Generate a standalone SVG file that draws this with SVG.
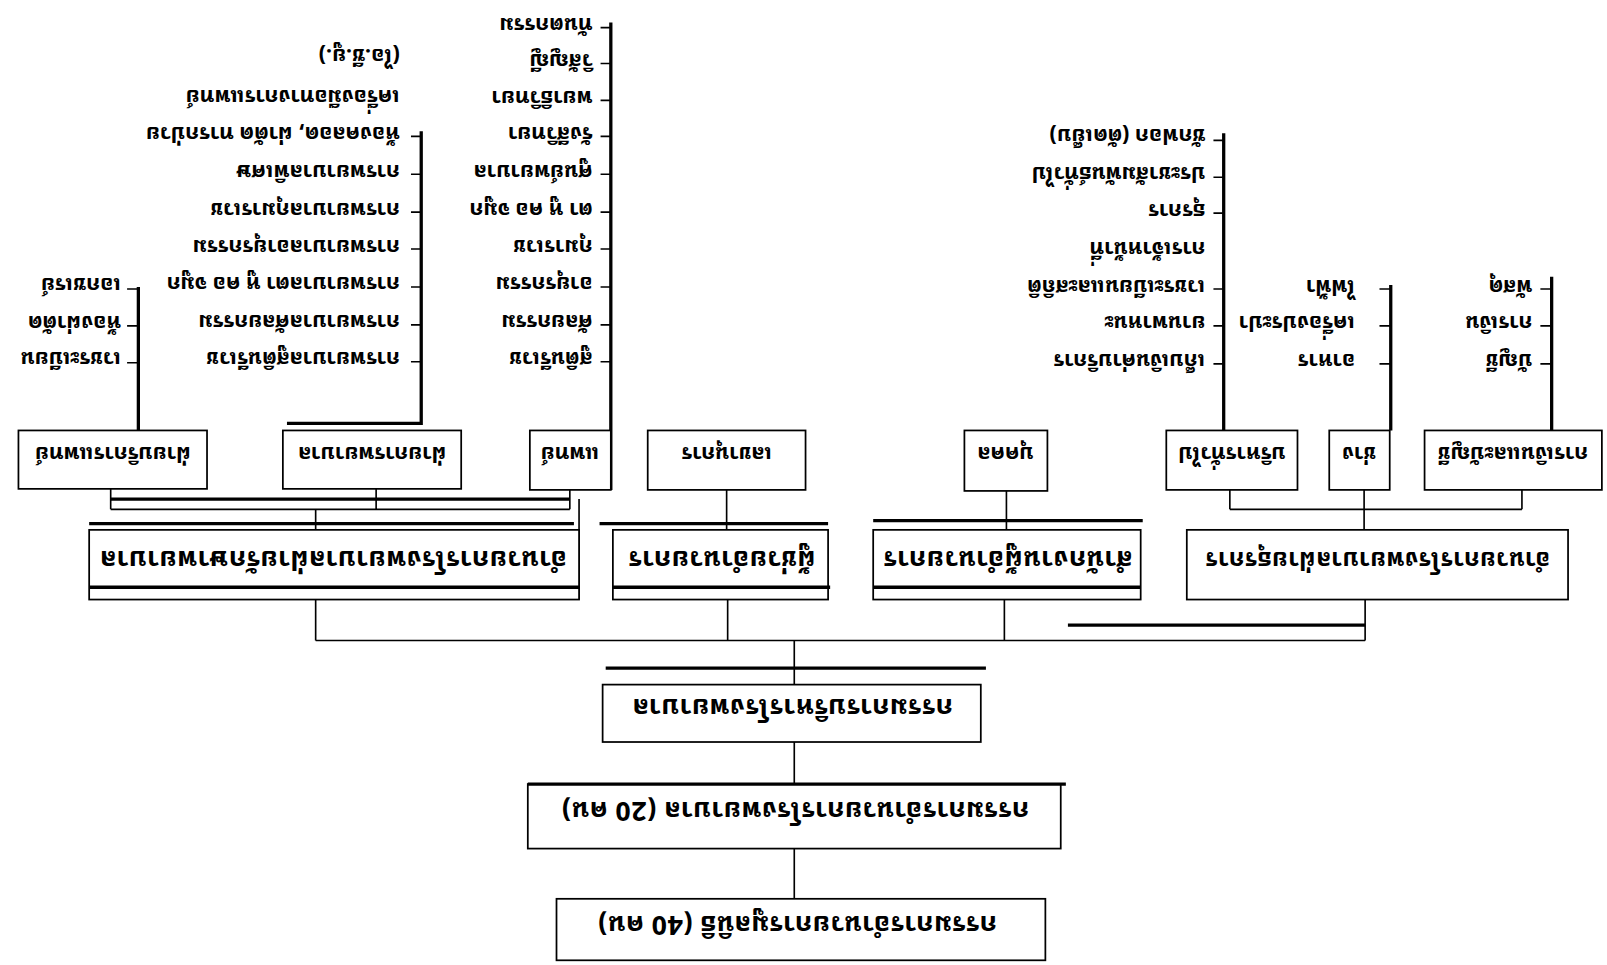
<svg xmlns="http://www.w3.org/2000/svg" width="1607" height="965" viewBox="0 0 1607 965">
<style>
.box{fill:#fff;stroke:#000;stroke-width:1.7}
.ln{stroke:#000;stroke-width:1.6;fill:none}
.hv{stroke:#000;stroke-width:3.2;fill:none}
text{font-family:'Tlwg Typewriter','TlwgTypewriter','Noto Sans Thai Looped','Noto Serif Thai','Loma','Noto Sans Thai','DejaVu Sans',sans-serif;font-weight:700;fill:#000;dominant-baseline:central}
.l{font-size:21px}
.b{font-size:21px;text-anchor:middle}
.b2{font-size:26px;text-anchor:middle;letter-spacing:0.5px}
</style>
<rect width="1607" height="965" fill="#fff"/>
<g transform="scale(1.02487)">
<g id="connectors">
<path class="hv" d="M135,280V420M411,128V413H280M596,22V478M1194,130V420M1357,278V420M1514,270V420"/>
<path class="ln" d="M124,282H135M124,318H135M124,354H135"/>
<path class="ln" d="M401,133H411M401,170H411M401,207H411M401,243H411M401,280H411M401,317H411M401,353H411"/>
<path class="ln" d="M586,27H596M586,62H596M586,98H596M586,133H596M586,170H596M586,207H596M586,243H596M586,280H596M586,317H596M586,353H596"/>
<path class="ln" d="M1184,137H1194M1184,173H1194M1184,208H1194M1184,282H1194M1184,318H1194M1184,355H1194"/>
<path class="ln" d="M1346,282H1357M1346,318H1357M1346,355H1357M1503,282H1514M1503,318H1514M1503,355H1514"/>
<path class="ln" d="M108,477V497M367,477V497M556,478V497M108,497H556M308,497V517M565,487V585"/>
<path class="hv" d="M108,487H556"/>
<path class="ln" d="M709,478V517M982,478V517"/>
<path class="ln" d="M1200,478V497M1331,478V517M1485,478V497M1200,497H1485"/>
<path class="ln" d="M308,585V625M710,585V625M980,585V625M1332,585V625M308,625H1332"/>
<path class="hv" d="M1042,610H1332"/>
<path class="ln" d="M775,625V668M775,724V765M775,828V877"/>
</g>
<g id="col1">
<text class="l" x="118" y="281" transform="rotate(180 118 281)">เอกซเรย์</text>
<text class="l" x="118" y="318" transform="rotate(180 118 318)">ห้องผ่าตัด</text>
<text class="l" x="118" y="353" transform="rotate(180 118 353)">เวชระเบียน</text>
</g>
<g id="col2">
<text class="l" x="390" y="57" transform="rotate(180 390 57)">(ไอ.ซี.ยู.)</text>
<text class="l" x="390" y="97" transform="rotate(180 390 97)">เครื่องมือทางการแพทย์</text>
<text class="l" x="390" y="133" transform="rotate(180 390 133)">ห้องคลอด, ผ่าตัด ทารกป่วย</text>
<text class="l" x="390" y="170" transform="rotate(180 390 170)">การพยาบาลพิเศษ</text>
<text class="l" x="390" y="207" transform="rotate(180 390 207)">การพยาบาลกุมารเวช</text>
<text class="l" x="390" y="243" transform="rotate(180 390 243)">การพยาบาลอายุรกรรม</text>
<text class="l" x="390" y="280" transform="rotate(180 390 280)">การพยาบาลตา หู คอ จมูก</text>
<text class="l" x="390" y="317" transform="rotate(180 390 317)">การพยาบาลศัลยกรรม</text>
<text class="l" x="390" y="353" transform="rotate(180 390 353)">การพยาบาลสูตินรีเวช</text>
</g>
<g id="col3">
<text class="l" x="578" y="27" transform="rotate(180 578 27)">ทันตกรรม</text>
<text class="l" x="578" y="62" transform="rotate(180 578 62)">วิสัญญี</text>
<text class="l" x="578" y="98" transform="rotate(180 578 98)">พยาธิวิทยา</text>
<text class="l" x="578" y="133" transform="rotate(180 578 133)">รังสีวิทยา</text>
<text class="l" x="578" y="170" transform="rotate(180 578 170)">ศูนย์พยาบาล</text>
<text class="l" x="578" y="207" transform="rotate(180 578 207)">ตา หู คอ จมูก</text>
<text class="l" x="578" y="243" transform="rotate(180 578 243)">กุมารเวช</text>
<text class="l" x="578" y="280" transform="rotate(180 578 280)">อายุรกรรม</text>
<text class="l" x="578" y="317" transform="rotate(180 578 317)">ศัลยกรรม</text>
<text class="l" x="578" y="353" transform="rotate(180 578 353)">สูตินรีเวช</text>
</g>
<g id="col4">
<text class="l" x="1176" y="135" transform="rotate(180 1176 135)">ซักฟอก (ตัดเย็บ)</text>
<text class="l" x="1176" y="172" transform="rotate(180 1176 172)">ประชาสัมพันธ์ทั่วไป</text>
<text class="l" x="1176" y="208" transform="rotate(180 1176 208)">ธุรการ</text>
<text class="l" x="1176" y="245" transform="rotate(180 1176 245)">การเจ้าหน้าที่</text>
<text class="l" x="1176" y="282" transform="rotate(180 1176 282)">เวชระเบียนและสถิติ</text>
<text class="l" x="1176" y="318" transform="rotate(180 1176 318)">ยานพาหนะ</text>
<text class="l" x="1176" y="355" transform="rotate(180 1176 355)">เก็บเงินค่าบริการ</text>
</g>
<g id="col5">
<text class="l" x="1322" y="282" transform="rotate(180 1322 282)">ไฟฟ้า</text>
<text class="l" x="1322" y="318" transform="rotate(180 1322 318)">เครื่องประปา</text>
<text class="l" x="1322" y="355" transform="rotate(180 1322 355)">อาหาร</text>
</g>
<g id="col6">
<text class="l" x="1495" y="282" transform="rotate(180 1495 282)">พัสดุ</text>
<text class="l" x="1495" y="318" transform="rotate(180 1495 318)">การเงิน</text>
<text class="l" x="1495" y="355" transform="rotate(180 1495 355)">บัญชี</text>
</g>
<g id="b1"><rect class="box" x="18" y="420" width="184" height="57"/><text class="b" x="110" y="445" transform="rotate(180 110 445)">ฝ่ายบริการแพทย์</text></g>
<g id="b2"><rect class="box" x="276" y="420" width="174" height="57"/><text class="b" x="363" y="445" transform="rotate(180 363 445)">ฝ่ายการพยาบาล</text></g>
<g id="b3"><rect class="box" x="517" y="420" width="79" height="58"/><text class="b" x="556" y="445" transform="rotate(180 556 445)">แพทย์</text></g>
<g id="b4"><rect class="box" x="632" y="420" width="154" height="58"/><text class="b" x="709" y="445" transform="rotate(180 709 445)">เลขานุการ</text></g>
<g id="b5"><rect class="box" x="941" y="420" width="81" height="59"/><text class="b" x="981" y="445" transform="rotate(180 981 445)">บุคคล</text></g>
<g id="b6"><rect class="box" x="1138" y="420" width="128" height="58"/><text class="b" x="1202" y="445" transform="rotate(180 1202 445)">บริหารทั่วไป</text></g>
<g id="b7"><rect class="box" x="1297" y="420" width="59" height="58"/><text class="b" x="1326" y="445" transform="rotate(180 1326 445)">ช่าง</text></g>
<g id="b8"><rect class="box" x="1390" y="420" width="173" height="58"/><text class="b" x="1476" y="445" transform="rotate(180 1476 445)">การเงินและบัญชี</text></g>
<g id="nA"><rect class="box" x="87" y="517" width="478" height="68"/><path class="hv" d="M87,511H560M87,573H565"/><text class="b2" x="325" y="549" transform="rotate(180 325 549)">อำนวยการโรงพยาบาลฝ่ายรักษาพยาบาล</text></g>
<g id="nB"><rect class="box" x="598" y="517" width="210" height="68"/><path class="hv" d="M585,511H808M598,573H810"/><text class="b2" x="704" y="549" transform="rotate(180 704 549)">ผู้ช่วยอำนวยการ</text></g>
<g id="nC"><rect class="box" x="852" y="517" width="261" height="68"/><path class="hv" d="M852,508H1115M852,573H1113"/><text class="b2" x="983" y="549" transform="rotate(180 983 549)">สำนักงานผู้อำนวยการ</text></g>
<g id="nD"><rect class="box" x="1158" y="517" width="372" height="68"/><text class="b2" x="1344" y="549" transform="rotate(180 1344 549)" style="font-size:23.5px">อำนวยการโรงพยาบาลฝ่ายธุรการ</text></g>
<g id="nT"><rect class="box" x="588" y="668" width="369" height="56"/><path class="hv" d="M591,652H962"/><text class="b2" x="773" y="694" transform="rotate(180 773 694)">กรรมการบริหารโรงพยาบาล</text></g>
<g id="nM"><rect class="box" x="515" y="765" width="520" height="63"/><path class="hv" d="M515,765H1040"/><text class="b2" x="776" y="794" transform="rotate(180 776 794)">กรรมการอำนวยการโรงพยาบาล (20 คน)</text></g>
<g id="nR"><rect class="box" x="543" y="877" width="477" height="60"/><text class="b2" x="778" y="905" transform="rotate(180 778 905)">กรรมการอำนวยการมูลนิธิ (40 คน)</text></g>
</g>
</svg>
